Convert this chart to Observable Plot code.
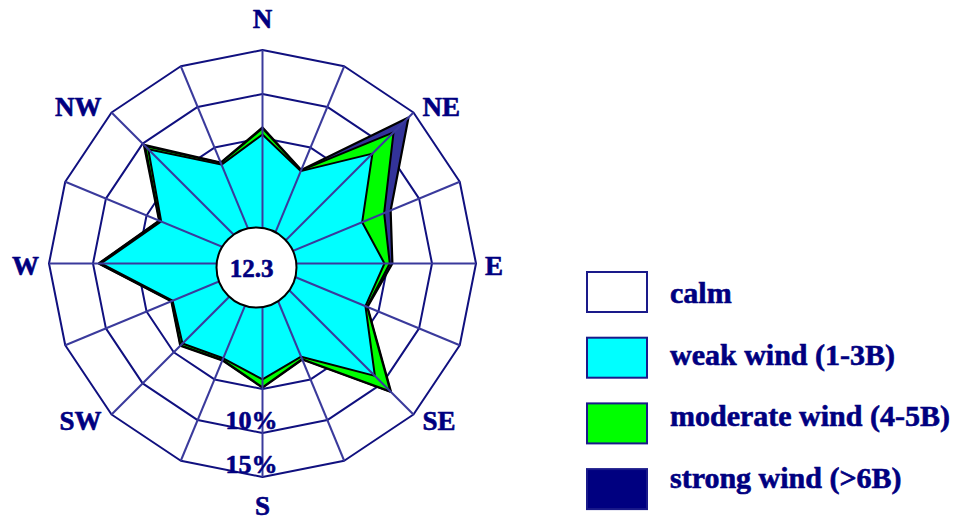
<!DOCTYPE html>
<html><head><meta charset="utf-8">
<script src="https://cdn.jsdelivr.net/npm/d3@7"></script>
<script src="https://cdn.jsdelivr.net/npm/@observablehq/plot@0.6"></script>
<style>
html,body{margin:0;padding:0;background:#fff;}
#wrap{position:relative;width:969px;height:520px;overflow:hidden;background:#fff;}
#chart{position:absolute;left:0;top:0;}
#legend{position:absolute;left:0;top:0;pointer-events:none;}
</style></head><body>
<div id="wrap"><div id="chart"></div><svg id="legend" width="969" height="520"></svg></div>
<script>
// ---- data ----
const directions = ["N","NNE","NE","ENE","E","ESE","SE","SSE","S","SSW","SW","WSW","W","WNW","NW","NNW"];
const weak     = [5.4, 2.1, 8.4, 3.0, 4.6, 3.4, 8.8, 2.2, 3.9, 2.4, 3.6, 1.8, 9.1, 3.2, 9.1, 2.9];
const moderate = [0.7, 0.1, 3.4, 2.7, 0.6, 0.2, 2.5, 0.3, 0.9, 0.2, 0.3, 0.1, 0.2, 0.2, 0.5, 0.2];
const strong   = [0.1, 0.05, 2.4, 0.8, 0.3, 0.05, 0.1, 0.05, 0.05, 0.05, 0.05, 0.05, 0.05, 0.05, 0.2, 0.05];
const calm = 12.3;
const ringTicks = [5, 10, 15];
const labeledRings = [10, 15];
const compassLabels = ["N","NE","E","SE","S","SW","W","NW"];
const legendLabels = ["calm", "weak wind (1-3B)", "moderate wind (4-5B)", "strong wind (>6B)"];
const legendColors = ["#ffffff", "#00ffff", "#00ff00", "#000080"];

// ---- geometry helpers ----
const NAVY = "#000080";
const FONT = "'Liberation Serif','Times New Roman',serif";
const rScale = d3.scaleLinear().domain([0, 15]).range([81.5, 213.5]);
const n = directions.length;
const ang = i => i * 2 * Math.PI / n;
const pt = (i, r) => ({x: r * Math.sin(ang(i)), y: r * Math.cos(ang(i))});

const c1 = weak;
const c2 = weak.map((v, i) => v + moderate[i]);
const c3 = c2.map((v, i) => v + strong[i]);
const poly = vals => vals.map((v, i) => ({...pt(i, rScale(v)), dir: directions[i]}));

const ringData = ringTicks.flatMap(t => d3.range(n).map(i => ({...pt(i, rScale(t)), t})));
const Rmax = rScale(15);

const compass = compassLabels.map(l => {
  const i = directions.indexOf(l);
  const p = pt(i, Rmax);
  const c = Math.cos(ang(i)), s = Math.sin(ang(i));
  return {label: l, x: p.x, y: p.y, c, s};
});
const mid = compass.filter(d => Math.abs(d.s) < 0.1);
const right = compass.filter(d => d.s > 0.1);
const left = compass.filter(d => d.s < -0.1);
const sideDy = d => d.c > 0.5 ? 5 : d.c < -0.5 ? -7 : -3;

const txt = {fontFamily: FONT, fontWeight: "bold", fill: NAVY, stroke: NAVY, strokeWidth: 0.6};

const chart = Plot.plot({
  width: 530, height: 520, margin: 0,
  x: {domain: [-262, 268], axis: null},
  y: {domain: [-257, 263], axis: null},
  style: {background: "white", overflow: "visible"},
  marks: [
    Plot.line(ringData, {x: "x", y: "y", z: "t", stroke: "#10107f", strokeWidth: 2, curve: "linear-closed"}),
    Plot.line(poly(c3), {x: "x", y: "y", fill: "#333399", stroke: "black", strokeWidth: 2.2, strokeLinejoin: "miter", curve: "linear-closed"}),
    Plot.line(poly(c2), {x: "x", y: "y", fill: "#00ff00", stroke: "black", strokeWidth: 2, curve: "linear-closed"}),
    Plot.line(poly(c1), {x: "x", y: "y", fill: "#00ffff", stroke: "black", strokeWidth: 2, curve: "linear-closed"}),
    Plot.link(d3.range(n), {x1: () => 0, y1: () => 0, x2: i => pt(i, Rmax).x, y2: i => pt(i, Rmax).y, stroke: "#3a3a9c", strokeWidth: 2}),
    Plot.dot([calm], {x: () => -6, y: () => -4, r: 40, fill: "white", stroke: "black", strokeWidth: 2}),
    Plot.text([calm], {x: () => -11, y: () => -5, text: d => String(d), fontSize: 25, lineAnchor: "middle", ...txt}),
    Plot.text(labeledRings, {x: () => 0, y: d => -rScale(d), text: d => d + "%", dx: -11, dy: -4, lineAnchor: "bottom", fontSize: 26, ...txt}),
    Plot.text(mid, {x: "x", y: d => d.y + Math.sign(d.c) * (d.c > 0 ? 31 : 29), text: "label", textAnchor: "middle", lineAnchor: "middle", fontSize: 27, ...txt}),
    Plot.text(right, {x: d => d.x + 9, y: d => d.y + sideDy(d), text: "label", textAnchor: "start", lineAnchor: "middle", fontSize: 27, ...txt}),
    Plot.text(left, {x: d => d.x - 10, y: d => d.y + sideDy(d), text: "label", textAnchor: "end", lineAnchor: "middle", fontSize: 27, ...txt})
  ]
});
document.getElementById("chart").append(chart);

// ---- legend ----
const lg = d3.select("#legend");
const items = lg.selectAll("g").data(legendLabels).join("g");
items.append("rect")
  .attr("x", 587).attr("y", (d, i) => 272 + i * 65.7)
  .attr("width", 60).attr("height", 40)
  .attr("fill", (d, i) => legendColors[i])
  .attr("stroke", "#1a1a8a").attr("stroke-width", 2);
items.append("text")
  .attr("x", 670).attr("y", (d, i) => 303 + i * 61.7)
  .attr("font-family", FONT).attr("font-weight", "bold").attr("font-size", 30)
  .attr("fill", NAVY).attr("stroke", NAVY).attr("stroke-width", 0.6)
  .text(d => d);
</script>
</body></html>
